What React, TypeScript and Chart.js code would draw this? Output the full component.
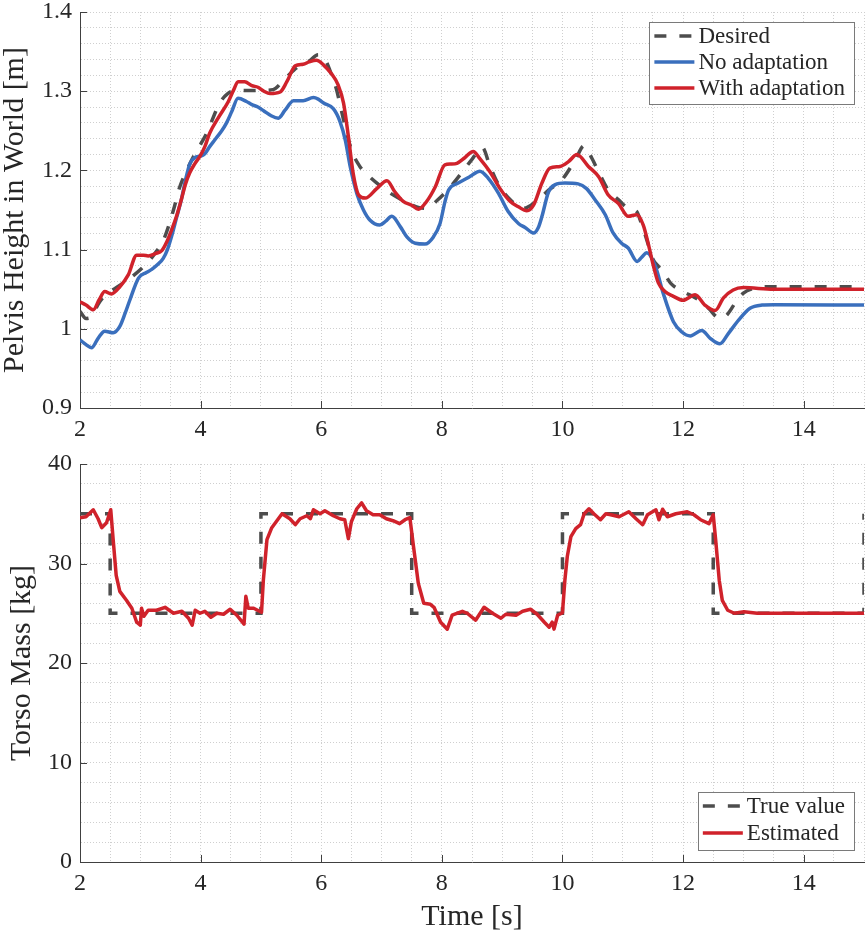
import { useEffect, useRef } from "react";
import { Chart, registerables } from "chart.js";

Chart.register(...registerables);

// Top panel: pelvis height [m]
const desiredTime = [
  2.0, 2.1, 2.2, 2.3, 2.4, 2.5, 2.7, 2.9, 3.1, 3.25, 3.4, 3.55, 3.65, 3.8, 3.9,
  4.0, 4.1, 4.2, 4.3, 4.45, 4.6, 5.0, 5.2, 5.4, 5.6, 5.8, 5.95, 6.05, 6.15,
  6.25, 6.37, 6.5, 6.64, 6.8, 6.97, 7.15, 7.36, 7.58, 7.75, 7.92, 8.14, 8.36,
  8.5, 8.67, 8.8, 8.94, 9.16, 9.35, 9.55, 9.77, 9.99, 10.21, 10.36, 10.49, 10.6,
  10.76, 10.93, 11.09, 11.23, 11.3, 11.4, 11.5, 11.6, 11.7, 11.8, 12.0, 12.23,
  12.42, 12.61, 12.72, 12.86, 13.0, 13.17, 13.33, 15.0,
];
const desiredHeight = [
  1.022, 1.013, 1.016, 1.031, 1.041, 1.047, 1.057, 1.068, 1.082, 1.096, 1.115,
  1.15, 1.178, 1.205, 1.22, 1.233, 1.247, 1.265, 1.283, 1.297, 1.301, 1.301,
  1.302, 1.316, 1.33, 1.338, 1.346, 1.342, 1.325, 1.303, 1.264, 1.226, 1.205,
  1.192, 1.181, 1.171, 1.162, 1.154, 1.152, 1.162, 1.179, 1.2, 1.214, 1.229,
  1.205, 1.182, 1.161, 1.152, 1.16, 1.175, 1.188, 1.213, 1.231, 1.215, 1.198,
  1.175, 1.163, 1.152, 1.148, 1.135, 1.112, 1.088, 1.078, 1.068, 1.057, 1.047,
  1.038, 1.026, 1.013, 1.017, 1.032, 1.045, 1.051, 1.053, 1.053,
];

const noAdaptTime = [
  2.0, 2.1, 2.19, 2.3, 2.41, 2.55, 2.66, 2.75, 2.83, 2.97, 3.1, 3.19, 3.3, 3.38,
  3.45, 3.52, 3.6, 3.68, 3.75, 3.82, 3.9, 4.0, 4.07, 4.15, 4.24, 4.35, 4.43,
  4.52, 4.62, 4.76, 4.85, 4.95, 5.05, 5.17, 5.29, 5.4, 5.54, 5.7, 5.87, 5.95,
  6.04, 6.2, 6.31, 6.4, 6.48, 6.59, 6.7, 6.81, 6.97, 7.07, 7.17, 7.31, 7.42,
  7.56, 7.72, 7.86, 7.97, 8.05, 8.11, 8.27, 8.44, 8.5, 8.63, 8.77, 8.94, 9.1,
  9.27, 9.38, 9.52, 9.6, 9.66, 9.77, 9.88, 10.04, 10.26, 10.4, 10.54, 10.71,
  10.84, 10.98, 11.09, 11.24, 11.31, 11.4, 11.54, 11.67, 11.84, 11.98, 12.12,
  12.31, 12.45, 12.61, 12.75, 12.92, 13.11, 13.31, 13.5, 15.0,
];
const noAdaptHeight = [
  0.986, 0.98, 0.976, 0.988, 0.997, 0.995, 1.003, 1.02, 1.037, 1.064, 1.071,
  1.075, 1.082, 1.089, 1.1, 1.117, 1.14, 1.163, 1.188, 1.208, 1.216, 1.218,
  1.221, 1.23, 1.239, 1.25, 1.26, 1.275, 1.291, 1.287, 1.283, 1.28, 1.275,
  1.269, 1.266, 1.276, 1.288, 1.288, 1.292, 1.29, 1.285, 1.278, 1.262, 1.238,
  1.205, 1.171, 1.15, 1.137, 1.131, 1.136, 1.142, 1.129, 1.116, 1.108, 1.107,
  1.116, 1.133, 1.16, 1.175, 1.184, 1.191, 1.194, 1.199, 1.19, 1.171, 1.148,
  1.133, 1.128, 1.121, 1.128, 1.142, 1.173, 1.182, 1.184, 1.183, 1.177, 1.163,
  1.144, 1.121, 1.108, 1.102, 1.085, 1.09, 1.096, 1.079, 1.045, 1.009, 0.996,
  0.991, 0.998, 0.988, 0.981, 0.994, 1.011, 1.026, 1.03, 1.0305, 1.03,
];

const withAdaptTime = [
  2.0, 2.1, 2.22, 2.32, 2.41, 2.52, 2.66, 2.8, 2.94, 3.05, 3.13, 3.25, 3.36,
  3.44, 3.52, 3.6, 3.68, 3.75, 3.82, 3.9, 3.99, 4.07, 4.15, 4.29, 4.46, 4.55,
  4.62, 4.73, 4.85, 4.95, 5.05, 5.15, 5.32, 5.43, 5.57, 5.7, 5.8, 5.92, 6.04,
  6.17, 6.28, 6.37, 6.45, 6.53, 6.62, 6.73, 6.92, 7.09, 7.22, 7.36, 7.5, 7.61,
  7.75, 7.89, 8.05, 8.15, 8.25, 8.38, 8.52, 8.63, 8.8, 8.965, 9.13, 9.27, 9.41,
  9.52, 9.66, 9.79, 9.96, 10.1, 10.24, 10.43, 10.6, 10.76, 10.93, 11.09, 11.23,
  11.34, 11.43, 11.51, 11.59, 11.7, 11.84, 12.0, 12.2, 12.36, 12.53, 12.67,
  12.83, 13.0, 13.5, 15.0,
];
const withAdaptHeight = [
  1.034, 1.03, 1.024, 1.037, 1.047, 1.044, 1.053, 1.068, 1.093, 1.093, 1.092,
  1.095, 1.099, 1.11, 1.125, 1.142, 1.163, 1.183, 1.197, 1.208, 1.218, 1.23,
  1.247, 1.266, 1.287, 1.302, 1.312, 1.312, 1.307, 1.305, 1.3, 1.297, 1.299,
  1.312, 1.332, 1.334, 1.337, 1.339, 1.333, 1.322, 1.308, 1.285, 1.243, 1.196,
  1.169, 1.165, 1.177, 1.187, 1.173, 1.161, 1.156, 1.151, 1.161, 1.179, 1.207,
  1.208, 1.209, 1.216, 1.224, 1.215, 1.198, 1.177, 1.161, 1.154, 1.149, 1.156,
  1.184, 1.203, 1.205, 1.211, 1.22, 1.205, 1.192, 1.169, 1.158, 1.142, 1.144,
  1.131, 1.105, 1.079, 1.058, 1.047, 1.041, 1.036, 1.043, 1.03, 1.023, 1.039,
  1.049, 1.052, 1.05, 1.05,
];

// Bottom panel: torso mass [kg]
const trueTime = [2, 2.5, 5, 7.5, 10, 12.5, 15];
const trueMass = [35, 25, 35, 25, 35, 25, 35];

const estTime = [
  2.0, 2.1, 2.22, 2.3, 2.36, 2.44, 2.51, 2.55, 2.6, 2.66, 2.77, 2.86, 2.94, 3.0,
  3.02, 3.06, 3.13, 3.27, 3.41, 3.55, 3.69, 3.8, 3.86, 3.91, 3.99, 4.07, 4.17,
  4.27, 4.38, 4.49, 4.6, 4.72, 4.75, 4.79, 4.88, 5.01, 5.04, 5.1, 5.18, 5.35,
  5.48, 5.57, 5.65, 5.76, 5.82, 5.87, 5.98, 6.06, 6.2, 6.31, 6.39, 6.45, 6.5,
  6.59, 6.67, 6.75, 6.86, 6.97, 7.08, 7.19, 7.3, 7.39, 7.47, 7.53, 7.61, 7.7,
  7.81, 7.87, 7.98, 8.09, 8.17, 8.34, 8.42, 8.56, 8.7, 8.84, 8.98, 9.06, 9.23,
  9.34, 9.47, 9.58, 9.7, 9.78, 9.83, 9.86, 9.92, 10.0, 10.04, 10.08, 10.14,
  10.22, 10.3, 10.36, 10.44, 10.52, 10.63, 10.72, 10.8, 10.94, 11.1, 11.22,
  11.33, 11.41, 11.55, 11.6, 11.66, 11.74, 11.88, 12.07, 12.18, 12.29, 12.43,
  12.5, 12.54, 12.6, 12.65, 12.74, 12.85, 13.01, 13.23, 15.0,
];
const estMass = [
  34.6, 34.7, 35.4, 34.5, 33.6, 34.1, 35.4, 32.4, 28.8, 27.2, 26.3, 25.5, 24.1,
  23.8, 25.5, 24.7, 25.3, 25.3, 25.6, 25.0, 25.2, 24.5, 23.8, 25.3, 25.0, 25.2,
  24.6, 25.0, 24.9, 25.4, 24.8, 23.9, 26.7, 25.5, 25.5, 25.1, 28.3, 32.4, 33.6,
  35.0, 34.5, 33.9, 34.5, 34.8, 34.5, 35.4, 35.0, 35.3, 34.8, 34.5, 34.4, 32.5,
  34.2, 35.5, 36.1, 35.3, 34.9, 34.9, 34.5, 34.3, 34.0, 34.4, 34.6, 31.7, 28.0,
  26.0, 25.9, 25.6, 24.1, 23.4, 24.8, 25.2, 25.0, 24.3, 25.6, 25.0, 24.5, 24.9,
  24.8, 25.2, 25.4, 24.9, 24.1, 23.6, 24.1, 23.4, 24.8, 25.05, 28.3, 30.7, 32.7,
  33.5, 33.9, 35.0, 35.5, 35.0, 34.4, 35.0, 34.9, 34.7, 35.2, 34.5, 33.9, 34.9,
  35.4, 34.4, 35.45, 34.7, 35.0, 35.2, 34.9, 34.4, 34.0, 34.9, 32.4, 28.3, 26.3,
  25.3, 25.0, 25.15, 25.0, 25.0,
];

const timeLabels = [2, 4, 6, 8, 10, 12, 14];
const heightLabels = [0.9, 1, 1.1, 1.2, 1.3, 1.4];
const massLabels = [0, 10, 20, 30, 40];

const FONT = "'Liberation Serif', 'Times New Roman', serif";
const TEXT = "#262626";
const AXIS = "#404040";
const GRID = "#cfcfcf";
const GRAY = "#4d4d4d";
const BLUE = "#3a6fbd";
const RED = "#d0222b";
const DASH = [12, 13];

const toPoints = (xs: number[], ys: number[]) =>
  xs.map((x, i) => ({ x, y: ys[i] }));

const isIn = (list: number[], v: number) =>
  list.some((l) => Math.abs(l - v) < 1e-6);

// inward tick marks at the labelled values
const innerTicks = {
  id: "innerTicks",
  afterDraw(chart: any, _args: any, opts: any) {
    const { ctx, chartArea, scales } = chart;
    ctx.save();
    ctx.strokeStyle = AXIS;
    ctx.lineWidth = 1;
    ctx.beginPath();
    opts.xTicks.forEach((v: number) => {
      const px = Math.round(scales.x.getPixelForValue(v)) + 0.5;
      ctx.moveTo(px, chartArea.bottom);
      ctx.lineTo(px, chartArea.bottom - 7);
    });
    opts.yTicks.forEach((v: number) => {
      const py = Math.round(scales.y.getPixelForValue(v)) + 0.5;
      ctx.moveTo(chartArea.left, py);
      ctx.lineTo(chartArea.left + 7, py);
    });
    ctx.stroke();
    ctx.restore();
  },
};

// boxed legend like the matlab one
const boxLegend = {
  id: "boxLegend",
  afterDraw(chart: any, _args: any, opts: any) {
    const { ctx, chartArea } = chart;
    const sets = chart.data.datasets;
    ctx.save();
    ctx.font = `23px ${FONT}`;
    const textW = Math.max(...sets.map((d: any) => ctx.measureText(d.label).width));
    const w = 49 + textW + 9;
    const rowH = opts.rowH;
    const h = rowH * sets.length + 4;
    const left = chartArea.right - opts.right - w;
    const top =
      opts.place === "top" ? chartArea.top + opts.offset : chartArea.bottom - opts.offset - h;
    ctx.fillStyle = "#ffffff";
    ctx.fillRect(left, top, w, h);
    ctx.strokeStyle = "#7a7a7a";
    ctx.lineWidth = 1;
    ctx.strokeRect(Math.round(left) + 0.5, Math.round(top) + 0.5, Math.round(w), Math.round(h));
    sets.forEach((d: any, i: number) => {
      const cy = top + 14 + i * rowH;
      ctx.save();
      ctx.strokeStyle = d.borderColor;
      ctx.lineWidth = d.borderWidth;
      ctx.setLineDash(d.borderDash || []);
      ctx.beginPath();
      ctx.moveTo(left + 5, cy);
      ctx.lineTo(left + 45, cy);
      ctx.stroke();
      ctx.restore();
      ctx.fillStyle = TEXT;
      ctx.textBaseline = "middle";
      ctx.textAlign = "left";
      ctx.fillText(d.label, left + 49, cy + 1);
    });
    ctx.restore();
  },
};

const xAxis = (height: number, title?: string) => ({
  type: "linear" as const,
  min: 2,
  max: 15,
  afterFit: (scale: any) => {
    scale.height = height;
  },
  ticks: {
    stepSize: 0.5,
    maxTicksLimit: 100,
    autoSkip: false,
    maxRotation: 0,
    minRotation: 0,
    padding: 0,
    color: TEXT,
    // tall line box pushes the labels down instead of tick padding
    font: { family: FONT, size: 24, lineHeight: 1.85 },
    callback: (v: any) => (isIn(timeLabels, Number(v)) ? String(v) : ""),
  },
  grid: { color: GRID, lineWidth: 1, drawTicks: false },
  border: { display: true, color: AXIS, width: 1, dash: [1, 2] },
  title: title
    ? {
        display: true,
        text: title,
        color: TEXT,
        font: { family: FONT, size: 30, lineHeight: 1 },
        padding: { top: 0, bottom: 3 },
      }
    : { display: false },
});

const yAxis = (
  min: number,
  max: number,
  step: number,
  labels: number[],
  fmt: (v: number) => string,
  title: string,
  titlePad: number
) => ({
  type: "linear" as const,
  min,
  max,
  afterFit: (scale: any) => {
    scale.width = 80;
  },
  ticks: {
    stepSize: step,
    maxTicksLimit: 100,
    autoSkip: false,
    padding: 8,
    color: TEXT,
    font: { family: FONT, size: 24, lineHeight: 0.1 },
    callback: (v: any) => (isIn(labels, Number(v)) ? fmt(Number(v)) : ""),
  },
  grid: { color: GRID, lineWidth: 1, drawTicks: false },
  border: { display: true, color: AXIS, width: 1, dash: [1, 2] },
  title: {
    display: true,
    text: title,
    color: TEXT,
    font: { family: FONT, size: 30, lineHeight: 1 },
    padding: { top: titlePad, bottom: 0 },
  },
});

const App = () => {
  const topRef = useRef<HTMLCanvasElement | null>(null);
  const bottomRef = useRef<HTMLCanvasElement | null>(null);

  useEffect(() => {
    document.body.style.margin = "0";
    if (!topRef.current || !bottomRef.current) return;

    const top = new Chart(topRef.current, {
      type: "line",
      data: {
        datasets: [
          {
            label: "Desired",
            data: toPoints(desiredTime, desiredHeight),
            borderColor: GRAY,
            borderWidth: 3.5,
            borderDash: DASH,
            pointRadius: 0,
            cubicInterpolationMode: "monotone",
            order: 3,
          },
          {
            label: "No adaptation",
            data: toPoints(noAdaptTime, noAdaptHeight),
            borderColor: BLUE,
            borderWidth: 3.5,
            pointRadius: 0,
            cubicInterpolationMode: "monotone",
            order: 2,
          },
          {
            label: "With adaptation",
            data: toPoints(withAdaptTime, withAdaptHeight),
            borderColor: RED,
            borderWidth: 3.5,
            pointRadius: 0,
            cubicInterpolationMode: "monotone",
            order: 1,
          },
        ],
      },
      options: {
        responsive: false,
        animation: false,
        layout: { padding: { top: 12, right: 4, left: 0, bottom: 0 } },
        scales: {
          x: xAxis(40),
          y: yAxis(
            0.9,
            1.4,
            0.02,
            heightLabels,
            (v) => (Math.abs(v - 1) < 1e-6 ? "1" : v.toFixed(1)),
            "Pelvis Height in World [m]",
            0
          ),
        },
        plugins: {
          legend: { display: false },
          tooltip: { enabled: false },
          innerTicks: { xTicks: timeLabels, yTicks: heightLabels },
          boxLegend: { place: "top", right: 10, offset: 10, rowH: 26 },
        } as any,
      },
      plugins: [innerTicks, boxLegend],
    });

    const bottom = new Chart(bottomRef.current, {
      type: "line",
      data: {
        datasets: [
          {
            label: "True value",
            data: toPoints(trueTime, trueMass),
            borderColor: GRAY,
            borderWidth: 3.5,
            borderDash: DASH,
            pointRadius: 0,
            stepped: "before",
            order: 2,
          },
          {
            label: "Estimated",
            data: toPoints(estTime, estMass),
            borderColor: RED,
            borderWidth: 3.5,
            pointRadius: 0,
            tension: 0,
            borderJoinStyle: "round",
            order: 1,
          },
        ],
      },
      options: {
        responsive: false,
        animation: false,
        layout: { padding: { top: 16, right: 4, left: 0, bottom: 0 } },
        scales: {
          x: xAxis(73, "Time [s]"),
          y: yAxis(0, 40, 2, massLabels, (v) => String(v), "Torso Mass [kg]", 7),
        },
        plugins: {
          legend: { display: false },
          tooltip: { enabled: false },
          innerTicks: { xTicks: timeLabels, yTicks: massLabels },
          boxLegend: { place: "bottom", right: 10, offset: 12, rowH: 27 },
        } as any,
      },
      plugins: [innerTicks, boxLegend],
    });

    return () => {
      top.destroy();
      bottom.destroy();
    };
  }, []);

  return (
    <div style={{ position: "relative", width: 868, height: 935, background: "#fff" }}>
      <canvas
        ref={topRef}
        width={868}
        height={448}
        style={{ position: "absolute", left: 0, top: 0 }}
      />
      <canvas
        ref={bottomRef}
        width={868}
        height={487}
        style={{ position: "absolute", left: 0, top: 448 }}
      />
    </div>
  );
};

export default App;
